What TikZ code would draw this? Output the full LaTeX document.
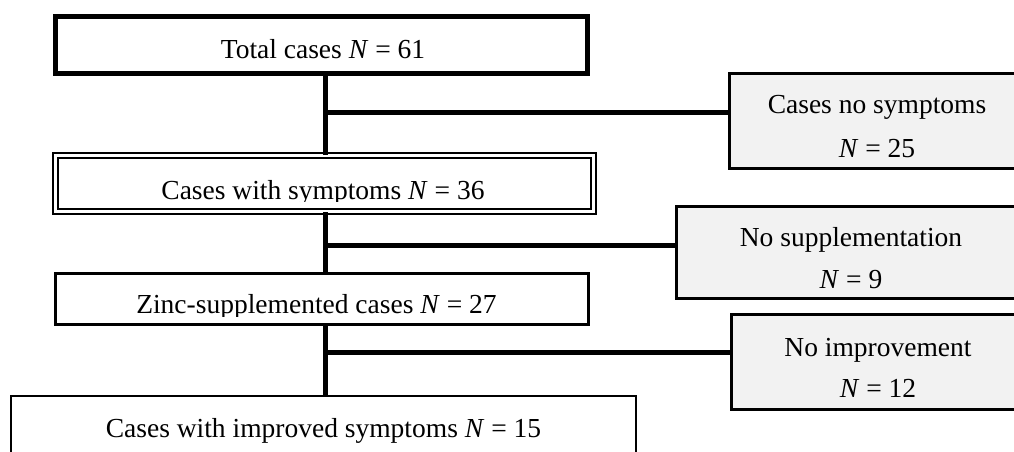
\documentclass[tikz,border=0pt]{standalone}
\usepackage{fontspec}
\setmainfont{Liberation Serif}
\definecolor{boxgray}{RGB}{242,242,242}
\tikzset{
  conn/.style={line width=5pt},
  topbox/.style={draw, line width=5pt, fill=white, minimum width=532pt, minimum height=57pt, inner sep=0pt},
  dblbox/.style={draw, line width=1.8pt, double, double distance=2.5pt, fill=white, minimum width=538pt, minimum height=56pt, inner sep=0pt},
  midbox/.style={draw, line width=3pt, fill=white, minimum width=533pt, minimum height=51pt, inner sep=0pt},
  botbox/.style={draw, line width=2pt, fill=white, minimum width=625pt, minimum height=74pt, inner sep=0pt},
  sidebox/.style={draw, line width=3pt, fill=boxgray, inner sep=0pt},
  txt/.style={font=\fontsize{27.5}{33}\selectfont, inner sep=0pt, anchor=base}
}
\begin{document}
\begin{tikzpicture}[x=1pt,y=-1pt]
\useasboundingbox (0,0) rectangle (1014,452);
\clip (0,0) rectangle (1014,452);
\fill[white] (0,0) rectangle (1014,452);
\coordinate (sx) at (325,0);
% boxes
\node[topbox] (top) at (321.5,45) {};
\node[dblbox] (sym) at (324.5,183.5) {};
\node[midbox] (zinc) at (322,299) {};
\node[botbox] (imp) at (323.5,433) {};
\node[sidebox, minimum width=300.5pt, minimum height=95pt] (r1) at (879.75,121) {};
\node[sidebox, minimum width=353.5pt, minimum height=92pt] (r2) at (853.25,252.5) {};
\node[sidebox, minimum width=298.5pt, minimum height=95pt] (r3) at (880.75,362) {};
% connectors
\draw[conn] (sx |- top.south) -- (sx |- sym.north);
\draw[conn] (sx |- sym.south) -- (sx |- zinc.north);
\draw[conn] (sx |- zinc.south) -- (sx |- imp.north);
\draw[conn] (sx |- 0,112) -- (r1.west |- 0,112);
\draw[conn] (sx |- 0,245) -- (r2.west |- 0,245);
\draw[conn] (sx |- 0,352) -- (r3.west |- 0,352);
% texts
\node[txt] (ttop) at (323,59) {Total cases \textit{N} = 61};
\begin{scope}
\clip (58,158) rectangle (591,201);
\node[txt] (tsym) at (323,199) {Cases with symptoms \textit{N} = 36};
\end{scope}
\begin{scope}
\clip (57,275) rectangle (587,316);
\node[txt] (tzinc) at (316.5,313) {Zinc-supplemented cases \textit{N} = 27};
\end{scope}
\node[txt] (timp) at (323.5,437) {Cases with improved symptoms \textit{N} = 15};
\node[txt] (tr1a) at (877,113) {Cases no symptoms};
\node[txt] (tr1b) at (877,157) {\textit{N} = 25};
\node[txt] (tr2a) at (851,246) {No supplementation};
\node[txt] (tr2b) at (851,288) {\textit{N} = 9};
\node[txt] (tr3a) at (878,356) {No improvement};
\node[txt] (tr3b) at (878,397) {\textit{N} = 12};
\end{tikzpicture}
\end{document}
